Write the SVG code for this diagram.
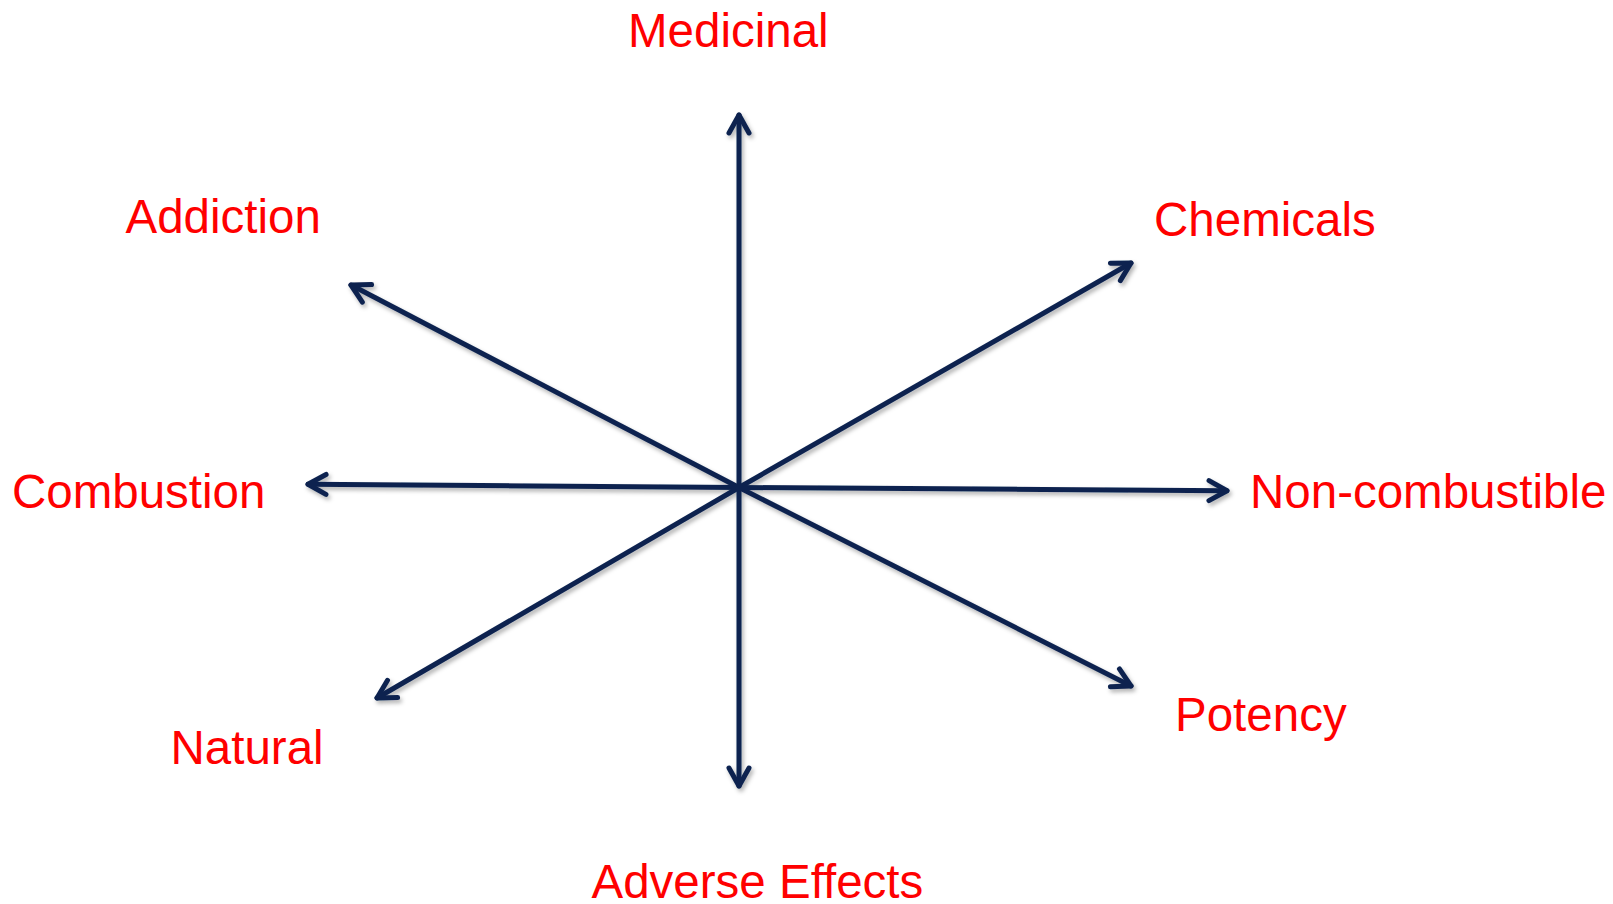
<svg xmlns="http://www.w3.org/2000/svg" width="1613" height="904" viewBox="0 0 1613 904">
  <style>
    .lbl { font-family: "Liberation Sans", Arial, sans-serif; font-size: 47.5px; fill: #ff0000; }
    .axis { stroke: #0c2450; stroke-width: 5; fill: none; stroke-linecap: round; stroke-linejoin: round; marker-end: url(#head); }
  </style>
  <defs>
    <marker id="head" markerUnits="userSpaceOnUse" viewBox="-24 -14 30 28" refX="0" refY="0" markerWidth="30" markerHeight="28" orient="auto" overflow="visible">
      <path d="M -18 -10 L 0 0 L -18 10" fill="none" stroke="#0c2450" stroke-width="5" stroke-linecap="round" stroke-linejoin="round"/>
    </marker>
    <filter id="shadow" x="-10%" y="-10%" width="120%" height="120%">
      <feDropShadow dx="2" dy="3" stdDeviation="2" flood-color="#000" flood-opacity="0.3"/>
    </filter>
  </defs>

  <!-- axes radiating from the common centre -->
  <g id="connectors" filter="url(#shadow)">
    <line class="axis" x1="739" y1="487.5" x2="739" y2="115"/>
    <line class="axis" x1="739" y1="487.5" x2="739" y2="786"/>
    <line class="axis" x1="739" y1="487.5" x2="308" y2="484.3"/>
    <line class="axis" x1="739" y1="487.5" x2="1227" y2="490.7"/>
    <line class="axis" x1="739" y1="487.5" x2="351" y2="285"/>
    <line class="axis" x1="739" y1="487.5" x2="1131" y2="263"/>
    <line class="axis" x1="739" y1="487.5" x2="377" y2="698"/>
    <line class="axis" x1="739" y1="487.5" x2="1131" y2="686"/>
  </g>

  <g id="medicinal"><text class="lbl" x="628" y="46.5">Medicinal</text></g>
  <g id="addiction"><text class="lbl" x="125.5" y="232.5">Addiction</text></g>
  <g id="chemicals"><text class="lbl" x="1154" y="235.5">Chemicals</text></g>
  <g id="combustion"><text class="lbl" x="12" y="507.5">Combustion</text></g>
  <g id="non-combustible"><text class="lbl" x="1250" y="507.5">Non-combustible</text></g>
  <g id="natural"><text class="lbl" x="170.5" y="764">Natural</text></g>
  <g id="potency"><text class="lbl" x="1175" y="730.5">Potency</text></g>
  <g id="adverse-effects"><text class="lbl" x="591.5" y="898">Adverse Effects</text></g>
</svg>
